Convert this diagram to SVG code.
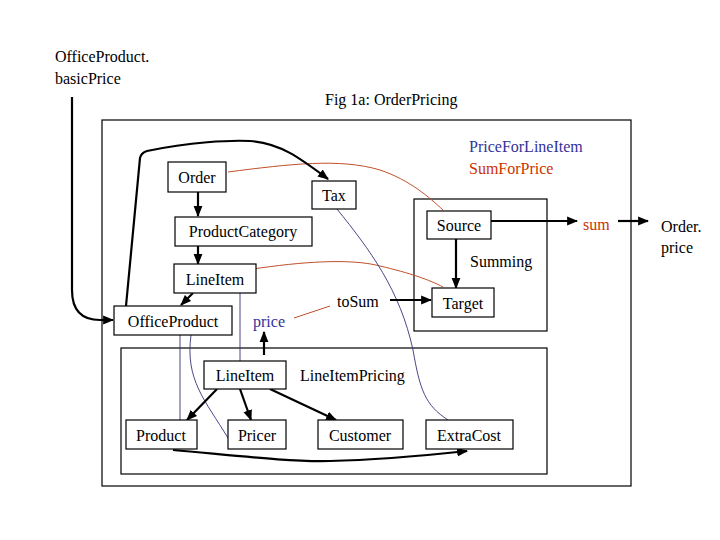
<svg xmlns="http://www.w3.org/2000/svg" width="720" height="540" viewBox="0 0 720 540">
<style>
text{font-family:"Liberation Serif","Times New Roman",serif;font-size:16px;fill:#000}
.box{fill:#fff;stroke:#000;stroke-width:1.2}
.frame{fill:none;stroke:#000;stroke-width:1.2}
.blk{fill:none;stroke:#000;stroke-width:2.2}
.blu{fill:none;stroke:#333377;stroke-width:0.9}
.red{fill:none;stroke:#c0502a;stroke-width:1}
.tb{fill:#333399}
.tr{fill:#cc3300}
</style>
<defs>
<marker id="ah" viewBox="0 0 10 10" refX="9" refY="5" markerWidth="5" markerHeight="5" orient="auto" markerUnits="strokeWidth"><path d="M0,1 L10,5 L0,9 z" fill="#000"/></marker>
</defs>
<rect width="720" height="540" fill="#fff"/>
<g id="frames">
<rect class="frame" x="102" y="120" width="529" height="366"/>
<rect class="frame" x="414" y="199" width="133" height="132"/>
<rect class="frame" x="121" y="348" width="426" height="126"/>
</g>
<g id="labels">
<text x="55" y="62">OfficeProduct.</text>
<text x="55" y="84">basicPrice</text>
<text x="325" y="105">Fig 1a: OrderPricing</text>
<text x="469" y="152" class="tb">PriceForLineItem</text>
<text x="469" y="174" class="tr">SumForPrice</text>
<text x="470" y="267">Summing</text>
<text x="583" y="230" class="tr">sum</text>
<text x="661" y="232">Order.</text>
<text x="661" y="253">price</text>
<text x="253" y="327" class="tb">price</text>
<text x="337" y="307">toSum</text>
<text x="300" y="381">LineItemPricing</text>
</g>
<g id="connectors">
<path class="red" d="M228,172 C290,164 340,158 380,170 C410,180 430,198 443,210"/>
<path class="red" d="M253,269 C300,262 350,258 380,266 C410,273 430,280 443,287"/>
<path class="red" d="M294,318 L330,306"/>
<path class="blu" d="M337,209 C370,250 400,290 413,350 C420,390 425,405 448,420"/>
<path class="blu" d="M180,335 L180,420"/>
<path class="blu" d="M191,335 C185,380 205,400 228,438"/>
<path class="blu" d="M240,293 L240,361"/>
<path class="blk" d="M126,306 L140,158 Q141,153 147,151 C190,142 230,140 250,141 C280,143 300,158 328,179" marker-end="url(#ah)"/>
<path class="blk" d="M72,97 L72,290 Q72,320 100,320 L113,320" marker-end="url(#ah)"/>
<path class="blk" d="M198,192 L198,216" marker-end="url(#ah)"/>
<path class="blk" d="M198,246 L198,264" marker-end="url(#ah)"/>
<path class="blk" d="M193,293 L181,305" marker-end="url(#ah)"/>
<path class="blk" d="M264,355 L264,332" marker-end="url(#ah)"/>
<path class="blk" d="M390,300 L431,300" marker-end="url(#ah)"/>
<path class="blk" d="M456,239 L456,288" marker-end="url(#ah)"/>
<path class="blk" d="M491,221 L577,221" marker-end="url(#ah)"/>
<path class="blk" d="M618,221 L648,221" marker-end="url(#ah)"/>
<path class="blk" d="M217,389 L187,420" marker-end="url(#ah)"/>
<path class="blk" d="M240,389 L251,420" marker-end="url(#ah)"/>
<path class="blk" d="M270,389 L336,420" marker-end="url(#ah)"/>
<path class="blk" d="M173,450 C240,456 290,462 330,461 C380,460 430,455 467,451" marker-end="url(#ah)"/>
</g>
<g id="n-order"><rect class="box" x="168" y="162" width="58" height="30"/><text x="197" y="183" text-anchor="middle">Order</text></g>
<g id="n-tax"><rect class="box" x="312" y="181" width="44" height="28"/><text x="334" y="201" text-anchor="middle">Tax</text></g>
<g id="n-productcategory"><rect class="box" x="175" y="217" width="137" height="29"/><text x="243" y="237" text-anchor="middle">ProductCategory</text></g>
<g id="n-source"><rect class="box" x="427" y="211" width="64" height="28"/><text x="459" y="231" text-anchor="middle">Source</text></g>
<g id="n-target"><rect class="box" x="432" y="288" width="62" height="29"/><text x="463" y="309" text-anchor="middle">Target</text></g>
<g id="n-lineitem1"><rect class="box" x="174" y="264" width="82" height="29"/><text x="215" y="285" text-anchor="middle">LineItem</text></g>
<g id="n-officeproduct"><rect class="box" x="114" y="306" width="118" height="29"/><text x="173" y="327" text-anchor="middle">OfficeProduct</text></g>
<g id="n-lineitem2"><rect class="box" x="204" y="361" width="82" height="28"/><text x="245" y="381" text-anchor="middle">LineItem</text></g>
<g id="n-product"><rect class="box" x="126" y="420" width="71" height="29"/><text x="161" y="441" text-anchor="middle">Product</text></g>
<g id="n-pricer"><rect class="box" x="228" y="420" width="58" height="29"/><text x="257" y="441" text-anchor="middle">Pricer</text></g>
<g id="n-customer"><rect class="box" x="318" y="420" width="85" height="29"/><text x="360" y="441" text-anchor="middle">Customer</text></g>
<g id="n-extracost"><rect class="box" x="426" y="420" width="87" height="29"/><text x="469" y="441" text-anchor="middle">ExtraCost</text></g>
</svg>
